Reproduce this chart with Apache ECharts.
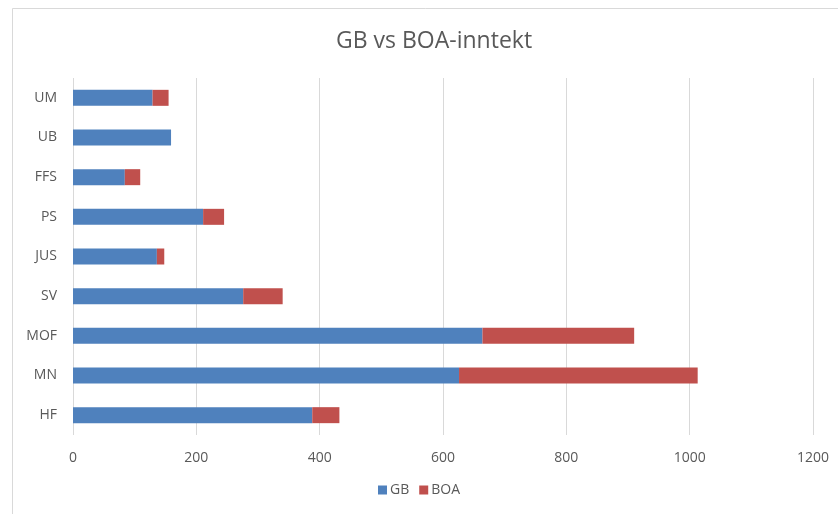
<!DOCTYPE html>
<html>
<head>
<meta charset="utf-8">
<script src="https://cdn.jsdelivr.net/npm/echarts@6/dist/echarts.min.js"></script>
<style>
  html, body { margin: 0; padding: 0; background: #fff; }
  #chart { width: 838px; height: 514px; }
</style>
</head>
<body>
<div id="chart"></div>
<script>
// categories bottom -> top (as ECharts draws category y axis)
var categories = ['HF', 'MN', 'MOF', 'SV', 'JUS', 'PS', 'FFS', 'UB', 'UM'];
var gbValues  = [388, 626, 664, 276, 136, 211, 84, 159, 129];
var boaValues = [44, 387, 246, 64, 12, 34, 25, 0, 26];
var xTicks = [0, 200, 400, 600, 800, 1000, 1200];

var myChart = echarts.init(document.getElementById('chart'));
var font = '"Open Sans", "Noto Sans", sans-serif';
var option = {
    backgroundColor: '#ffffff',
    textStyle: { fontFamily: font },
    title: {
        // 图表标题
        text: 'GB vs BOA-inntekt',
        left: 331,
        top: 25,
        textStyle: { fontFamily: font, fontSize: 23, fontWeight: 'normal', color: '#595959' }
    },
    legend: {
        data: ['GB', 'BOA'],
        bottom: 12,
        left: 'center',
        itemWidth: 9,
        itemHeight: 9,
        itemGap: 10,
        icon: 'rect',
        textStyle: { fontFamily: font, fontSize: 14, color: '#595959', padding: [0, 0, 0, -2] }
    },
    graphic: [{
        type: 'rect',
        shape: { x: 12.5, y: 8.5, width: 840, height: 520 },
        style: { fill: 'none', stroke: '#d9d9d9', lineWidth: 1 },
        silent: true
    }],
    grid: {
        left: 73,
        right: 25,
        top: 78,
        bottom: 79
    },
    xAxis: {
        type: 'value',
        min: xTicks[0],
        max: xTicks[xTicks.length - 1],
        interval: 200,
        axisLine: { show: false },
        axisTick: { show: false },
        axisLabel: {
            color: '#595959', fontSize: 14, fontFamily: font, margin: 16,
            formatter: function (v) { return String(v); }
        },
        splitLine: { show: true, lineStyle: { color: '#d9d9d9', width: 1 } }
    },
    yAxis: {
        type: 'category',
        data: categories,
        axisLine: { show: false },
        axisTick: { show: false },
        axisLabel: { color: '#595959', fontSize: 14, fontFamily: font, margin: 16 }
    },
    series: [
        {
            name: 'GB',
            type: 'bar',
            stack: 'total',
            barWidth: 16,
            itemStyle: { color: '#4f81bd' },
            data: gbValues
        },
        {
            name: 'BOA',
            type: 'bar',
            stack: 'total',
            barWidth: 16,
            itemStyle: { color: '#c0504d' },
            data: boaValues
        }
    ]
};
myChart.setOption(option);
</script>
</body>
</html>
